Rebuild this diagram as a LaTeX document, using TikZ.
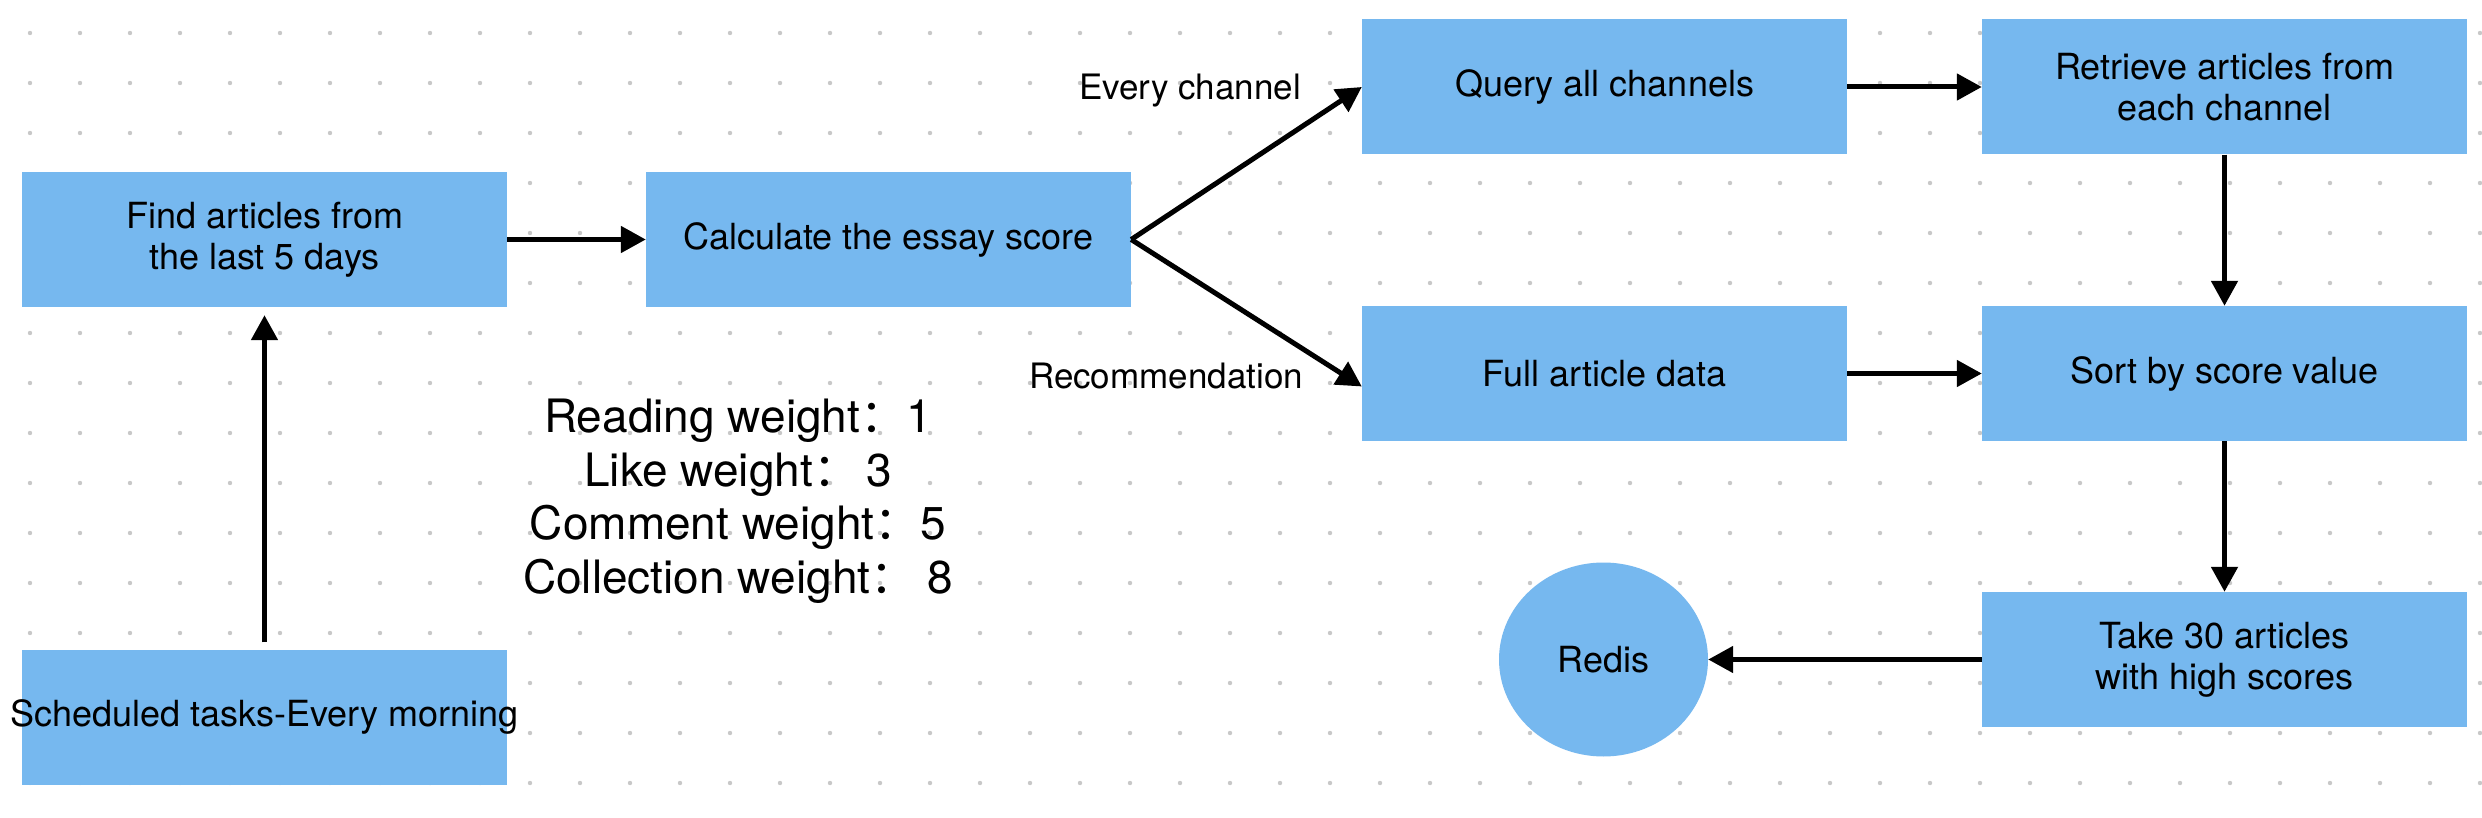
\documentclass[tikz,border=0pt]{standalone}
\usepackage{fontspec}
\setmainfont{TeX Gyre Heros}
\newfontfamily\cjk{Noto Sans CJK SC}
\usetikzlibrary{arrows.meta,shapes.geometric,calc}
\definecolor{boxblue}{RGB}{118,184,239}
\definecolor{dotgray}{RGB}{200,200,200}
\begin{document}
\begin{tikzpicture}[x=1pt,y=-1pt,
  box/.style={rectangle, fill=boxblue, minimum width=485pt, minimum height=135pt, inner sep=0pt, align=center, font=\fontsize{36}{41}\selectfont},
  roundbox/.style={ellipse, fill=boxblue, minimum width=209pt, minimum height=194pt, inner sep=0pt, font=\fontsize{36}{41}\selectfont},
  arr/.style={line width=5pt, -{Triangle[length=25pt,width=26pt]}},
  lbl/.style={font=\fontsize{35}{41}\selectfont, inner sep=0pt, anchor=base},
  wlbl/.style={font=\fontsize{46}{53}\selectfont, inner sep=0pt, anchor=base}]
\fill[white] (0,0) rectangle (2482,818);
\useasboundingbox (0,0) rectangle (2482,818);
\foreach \i in {0,...,49}{\foreach \j in {0,...,15}{\fill[dotgray] ({30+50*\i},{33+50*\j}) circle (2.2);}}

\node[box] (find) at (264.5,239.5) {Find articles from\\the last 5 days};
\node[box] (sched) at (264.5,717) {\makebox[0pt][c]{Scheduled tasks-Every morning}};
\node[box] (calc) at (888.5,239.5) {Calculate the essay score};
\node[box] (query) at (1604.5,87) {Query all channels};
\node[box] (full) at (1604.5,373.5) {Full article data};
\node[box] (retr) at (2224.5,87) {Retrieve articles from\\each channel};
\node[box] (sort) at (2224.5,373.5) {Sort by score value};
\node[box] (take) at (2224.5,659.5) {Take 30 articles\\with high scores};
\node[roundbox] (redis) at (1603.5,659.5) {Redis};

\node[lbl] (ech) at (1190,100) {Every channel};
\node[lbl] (rec) at (1166,388) {Recommendation};

\node[wlbl] (w1) at (738,432) {Reading weight{\cjk ：}1};
\node[wlbl] (w2) at (738,486) {Like weight{\cjk ：}\hspace{7pt}3};
\node[wlbl] (w3) at (738,539) {Comment weight{\cjk ：}5};
\node[wlbl] (w4) at (738,593) {Collection weight{\cjk ：}\hspace{11pt}8};

\draw[arr] (find) -- (calc);
\draw[arr, shorten <=7pt, shorten >=8pt] (sched) -- (find);
\draw[arr] (calc.east) -- (query.west);
\draw[arr] (calc.east) -- ($(full.west)+(0,13)$);
\draw[arr] (query) -- (retr);
\draw[arr] (retr) -- (sort);
\draw[arr] (full) -- (sort);
\draw[arr] (sort) -- (take);
\draw[arr] (take) -- (redis);
\end{tikzpicture}
\end{document}
